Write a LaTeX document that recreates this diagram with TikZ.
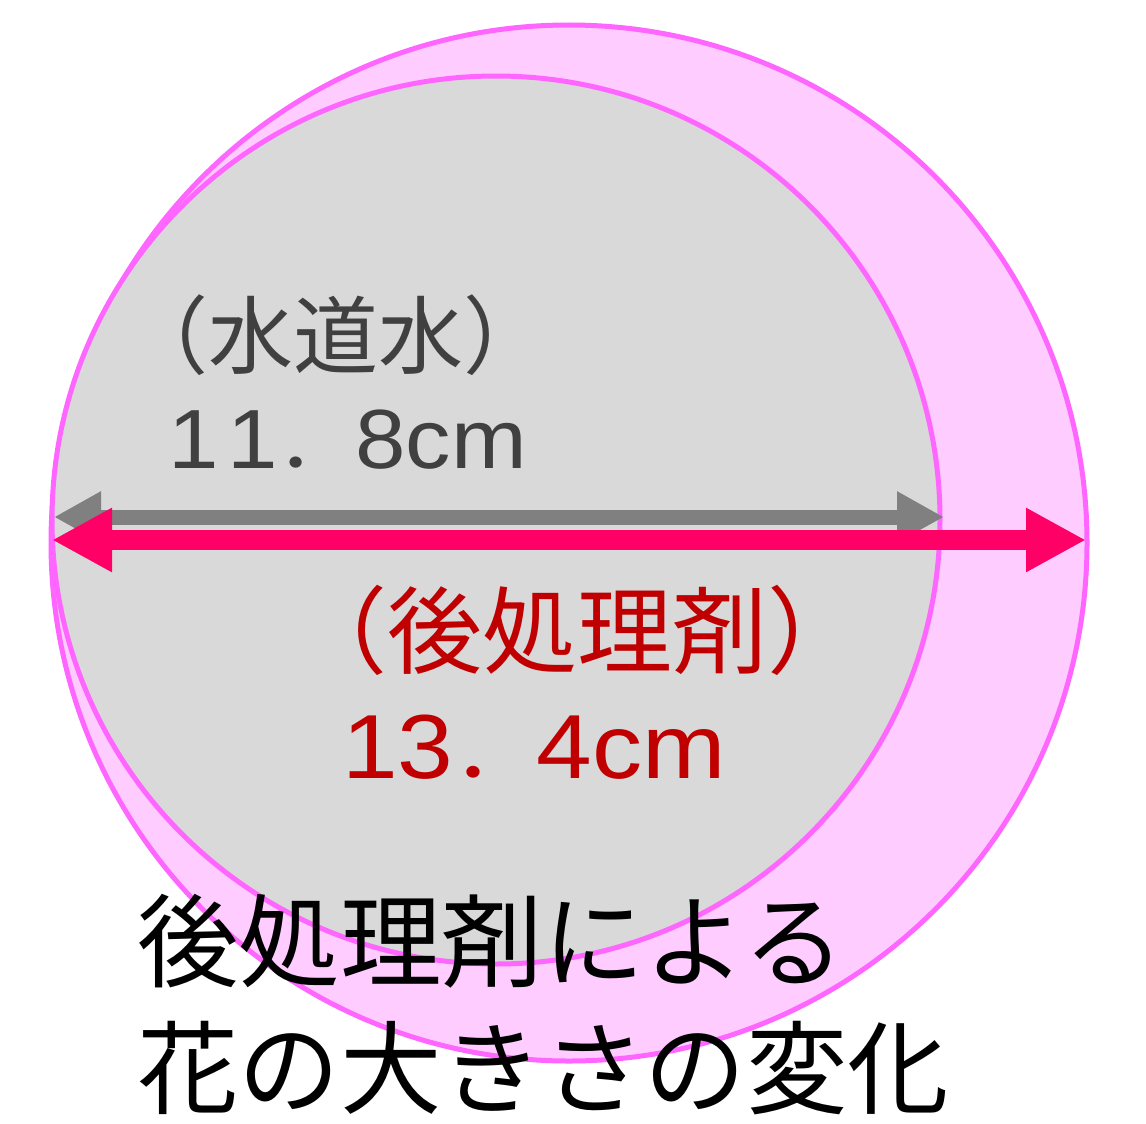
\documentclass[tikz,border=0pt]{standalone}
\usepackage{fontspec}
\usepackage{graphicx}
\usetikzlibrary{arrows.meta}
\newfontfamily\jp{Noto Sans CJK JP}
\newfontfamily\lat{Liberation Sans}
\definecolor{pinkfill}{HTML}{FFCCFF}
\definecolor{pinkline}{HTML}{FF66FF}
\definecolor{grayfill}{HTML}{D9D9D9}
\definecolor{grayarrow}{HTML}{808080}
\definecolor{redarrow}{HTML}{FF0066}
\definecolor{darkred}{HTML}{C00000}
\definecolor{graytext}{HTML}{404040}
\tikzset{
  disc/.style={circle, inner sep=0pt, outer sep=0pt, draw=pinkline, line width=5pt},
  lbl/.style={anchor=base west, inner sep=0pt, outer sep=0pt},
  grayarr/.style={draw=grayarrow, line width=15pt, {Triangle[length=47pt,width=48pt]}-{Triangle[length=47pt,width=48pt]}},
  redarr/.style={draw=redarrow, line width=20pt, {Triangle[length=60pt,width=60pt]}-{Triangle[length=60pt,width=60pt]}}
}
\begin{document}
\begin{tikzpicture}[x=1pt,y=-1pt]
\useasboundingbox (0,0) rectangle (1146,1124);
\node[disc, fill=pinkfill, minimum size=1036pt] (big) at (569,543) {};
\node[disc, fill=grayfill, minimum size=888pt] (small) at (496,520) {};
\coordinate (gl) at (54,517);
\coordinate (gr) at (944,517);
\coordinate (rl) at (52,540);
\coordinate (rr) at (1086,540);
\draw[grayarr] (gl) -- (gr);
\draw[redarr] (rl) -- (rr);
\node[lbl, text=graytext] (t1) at (123,367) {\fontsize{85}{100}\selectfont\jp （水道水）};
\node[lbl, text=graytext] (t2) at (168,468) {\fontsize{84}{100}\selectfont\scalebox{1.08}[1]{\lat 1\kern8pt1{\jp\fontsize{72}{90}\selectfont ．}8cm}};
\node[lbl, text=darkred] (t3) at (292,666) {\fontsize{95}{110}\selectfont\jp （後処理剤）};
\node[lbl, text=darkred] (t4) at (342,778) {\fontsize{91}{110}\selectfont\scalebox{1.1}[1]{\lat 13{\jp\fontsize{76}{90}\selectfont ．}4cm}};
\node[lbl, text=black] (t5) at (137,979) {\fontsize{101.5}{120}\selectfont\jp 後処理剤による};
\node[lbl, text=black] (t6) at (137,1106) {\fontsize{101.5}{120}\selectfont\jp 花の大きさの変化};
\end{tikzpicture}
\end{document}
